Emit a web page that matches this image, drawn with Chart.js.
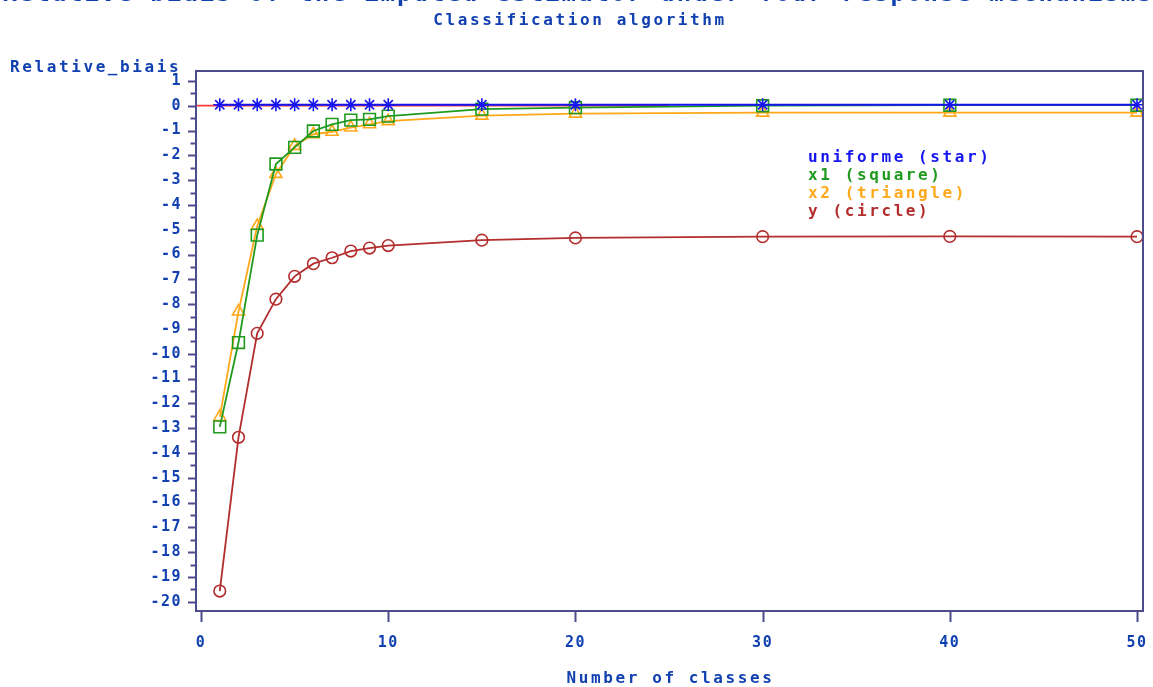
<!DOCTYPE html>
<html>
<head>
<meta charset="utf-8">
<title>Classification algorithm</title>
<script src="https://cdn.jsdelivr.net/npm/chart.js@4.4.1/dist/chart.umd.min.js"></script>
<style>
    body { margin: 0; background: #ffffff; }
    #wrap { width: 1153px; height: 687px; }
</style>
</head>
<body>
<div id="wrap"><canvas id="biasChart" width="1153" height="687"></canvas></div>
<script>
// number of classes on the x axis
const classes = [1, 2, 3, 4, 5, 6, 7, 8, 9, 10, 15, 20, 30, 40, 50];

// relative bias per response mechanism
const uniforme = [0.04, 0.04, 0.04, 0.04, 0.04, 0.04, 0.04, 0.04, 0.04, 0.04, 0.04, 0.04, 0.04, 0.04, 0.04];
const x1 = [-12.95, -9.55, -5.22, -2.35, -1.68, -1.02, -0.75, -0.58, -0.55, -0.42, -0.14, -0.08, 0.0, 0.02, 0.02];
const x2 = [-12.55, -8.3, -4.85, -2.75, -1.62, -1.15, -1.05, -0.88, -0.75, -0.62, -0.4, -0.32, -0.28, -0.28, -0.28];
const yMech = [-19.57, -13.37, -9.18, -7.8, -6.88, -6.37, -6.13, -5.86, -5.74, -5.64, -5.42, -5.33, -5.28, -5.27, -5.28];

// zero reference line
const refX = [-1, 25];
const refY = [0, 0];

const xTicks = [0, 10, 20, 30, 40, 50];
const yTicks = [1, 0, -1, -2, -3, -4, -5, -6, -7, -8, -9, -10, -11, -12, -13, -14, -15, -16, -17, -18, -19, -20];

const legendLabels = ['uniforme (star)', 'x1 (square)', 'x2 (triangle)', 'y (circle)'];
const titleText = 'Relative biais of the imputed estimator under four response mechanisms';
const subtitleText = 'Classification algorithm';
const xTitle = 'Number of classes';
const yTitle = 'Relative_biais';

const textBlue = '#1140b0';
const frameColor = '#4c4c8c';
const seriesColors = ['#1515f0', '#1f9a1f', '#ffa81a', '#b32d2d'];
const refColor = '#ff3a3a';
const monoFont = '"DejaVu Sans Mono", monospace';

function toPoints(xs, ys) {
    return xs.map((x, i) => ({ x: x, y: ys[i] }));
}

const sasDecor = {
    id: 'sasDecor',
    beforeDraw(chart) {
        chart.ctx.letterSpacing = '1.5px';
    },
    afterDraw(chart) {
        const ctx = chart.ctx;
        const area = chart.chartArea;
        const xs = chart.scales.x;
        const ys = chart.scales.y;

        ctx.save();
        ctx.strokeStyle = frameColor;
        ctx.lineWidth = 2;
        ctx.strokeRect(area.left, area.top, area.right - area.left, area.bottom - area.top);

        // y ticks, major and half-step minor
        ctx.beginPath();
        yTicks.forEach((v, i) => {
            const py = Math.round(ys.getPixelForValue(v)) + 0.5;
            ctx.moveTo(area.left - 8, py);
            ctx.lineTo(area.left, py);
            if (i < yTicks.length - 1) {
                const pm = Math.round(ys.getPixelForValue((v + yTicks[i + 1]) / 2)) + 0.5;
                ctx.moveTo(area.left - 5.5, pm);
                ctx.lineTo(area.left, pm);
            }
        });
        xTicks.forEach(v => {
            const px = Math.round(xs.getPixelForValue(v)) + 0.5;
            ctx.moveTo(px, area.bottom);
            ctx.lineTo(px, area.bottom + 11);
        });
        ctx.stroke();

        ctx.fillStyle = textBlue;
        ctx.textBaseline = 'alphabetic';

        // title line, mostly cut off by the top edge
        ctx.font = 'bold 24px ' + monoFont;
        ctx.letterSpacing = '2px';
        ctx.textAlign = 'center';
        ctx.fillText(titleText, 578, 1);

        ctx.font = 'bold 16px ' + monoFont;
        ctx.letterSpacing = '2.6px';
        ctx.fillText(subtitleText, 580, 25);
        ctx.fillText(xTitle, (area.left + area.right) / 2 + 1, 682.5);

        ctx.textAlign = 'left';
        ctx.fillText(yTitle, 10, 71.5);

        legendLabels.forEach((label, i) => {
            ctx.fillStyle = seriesColors[i];
            ctx.fillText(label, 808, 161.5 + i * 18);
        });
        ctx.restore();
    }
};

const mechData = [uniforme, x1, x2, yMech];
const mechStyles = ['star', 'rect', 'triangle', 'circle'];
const mechRadius = [6.5, 8.3, 7, 5.8];

const datasets = mechData.map((vals, i) => ({
    label: legendLabels[i],
    data: toPoints(classes, vals),
    borderColor: seriesColors[i],
    borderWidth: i === 0 ? 2 : 1.8,
    pointStyle: mechStyles[i],
    pointRadius: mechRadius[i],
    pointBorderWidth: 1.6,
    pointBorderColor: seriesColors[i],
    pointBackgroundColor: 'rgba(0,0,0,0)',
    fill: false,
    tension: 0,
    order: i
}));

datasets.push({
    label: 'ref',
    data: toPoints(refX, refY),
    borderColor: refColor,
    borderWidth: 1.8,
    pointRadius: 0,
    fill: false,
    order: 4
});

const tickFont = { family: monoFont, size: 15, weight: 'bold' };

new Chart(document.getElementById('biasChart'), {
    type: 'line',
    data: { datasets: datasets },
    options: {
        responsive: false,
        animation: false,
        events: [],
        layout: { padding: { left: 0, top: 71, right: 10, bottom: 0 } },
        plugins: {
            legend: { display: false },
            title: { display: false },
            tooltip: { enabled: false }
        },
        scales: {
            x: {
                type: 'linear',
                min: -0.27,
                max: 50.32,
                afterBuildTicks: s => { s.ticks = xTicks.map(v => ({ value: v })); },
                afterFit: s => {
                    s.height = 76;
                    s.paddingLeft = 0;
                    s.paddingRight = 0;
                },
                grid: { display: false },
                border: { display: false },
                ticks: { padding: 15, maxRotation: 0, autoSkip: false, font: tickFont, color: textBlue }
            },
            y: {
                type: 'linear',
                min: -20.375,
                max: 1.4,
                afterBuildTicks: s => { s.ticks = yTicks.map(v => ({ value: v })); },
                afterFit: s => {
                    s.width = 196;
                    s.paddingTop = 0;
                    s.paddingBottom = 0;
                },
                grid: { display: false },
                border: { display: false },
                ticks: { padding: 6, autoSkip: false, font: tickFont, color: textBlue }
            }
        }
    },
    plugins: [sasDecor]
});
</script>
</body>
</html>
